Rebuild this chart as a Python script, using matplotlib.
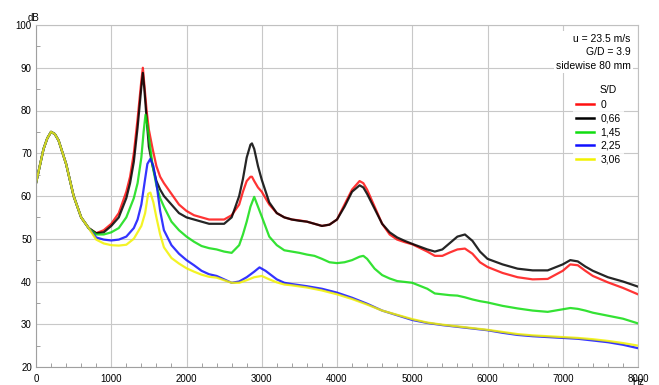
import matplotlib
matplotlib.use("Agg")
import matplotlib.pyplot as plt
from matplotlib.ticker import MultipleLocator

plt.rcParams['font.family'] = ['Liberation Sans', 'DejaVu Sans']

# shared low-frequency hump (all five curves lie on top of each other here)
f_low = [0, 50, 100, 150, 200, 250, 300, 400, 500, 600, 700]
db_low = [63, 67, 71, 73.5, 75, 74.5, 73, 67.5, 60, 55, 52.5]

f_red = [800, 900, 1000, 1100, 1200, 1250, 1300, 1350, 1400, 1420, 1440, 1470, 1500, 1550,
         1600, 1650, 1700, 1800, 1900, 2000, 2100, 2200, 2300, 2400, 2500, 2600, 2700, 2750,
         2800, 2850, 2870, 2900, 2950, 3000, 3100, 3200, 3300, 3400, 3500, 3600, 3700, 3800,
         3900, 4000, 4100, 4200, 4300, 4350, 4400, 4500, 4600, 4700, 4800, 4900, 5000, 5200,
         5300, 5400, 5500, 5600, 5700, 5800, 5900, 6000, 6200, 6400, 6600, 6800, 7000, 7100,
         7200, 7300, 7400, 7600, 7800, 8000]
db_red = [51.3, 52, 53.5, 56, 61, 64.5, 70, 78, 87, 90, 86, 80, 75.5, 71,
          67, 64.5, 63, 60.5, 58, 56.5, 55.5, 55, 54.5, 54.5, 54.5, 55.5, 58, 61,
          63.5, 64.5, 64.5, 63.5, 62, 61, 58, 56, 55, 54.5, 54.3, 54, 53.5, 53,
          53.3, 54.5, 58, 61.5, 63.5, 63, 61.5, 57.5, 53.5, 51, 49.8, 49.2, 48.7, 47,
          46, 46, 46.8, 47.5, 47.7, 46.5, 44.5, 43.4, 42, 41, 40.5, 40.6, 42.5, 44,
          43.8, 42.5, 41.3, 39.8, 38.5, 37]

f_black = f_red
db_black = [51.3, 51.5, 53, 55, 59.5, 63, 68, 76, 85.5, 88.8, 85, 78, 71.5, 67,
            63.5, 61.5, 60, 58, 56, 55, 54.5, 54, 53.5, 53.5, 53.5, 55, 60, 64,
            69, 72, 72.3, 71, 67, 63.8, 58.5, 56, 55, 54.5, 54.2, 54, 53.5, 53,
            53.3, 54.5, 57.5, 61, 62.5, 62, 60.5, 57, 53.5, 51.5, 50.3, 49.5, 48.8, 47.5,
            47, 47.5, 49, 50.5, 51, 49.5, 47, 45.3, 44, 43, 42.6, 42.6, 44, 45,
            44.7, 43.5, 42.5, 41, 40, 38.8]

f_green = [800, 900, 1000, 1100, 1200, 1300, 1350, 1400, 1430, 1455, 1480, 1510, 1550, 1600,
           1650, 1700, 1800, 1900, 2000, 2100, 2200, 2300, 2400, 2500, 2600, 2700, 2750, 2800,
           2850, 2900, 2950, 3000, 3100, 3200, 3300, 3400, 3500, 3600, 3700, 3800, 3900, 4000,
           4100, 4200, 4300, 4350, 4400, 4500, 4600, 4700, 4800, 4900, 5000, 5200, 5300, 5400,
           5500, 5600, 5700, 5800, 5900, 6000, 6200, 6400, 6600, 6800, 7000, 7100, 7200, 7300,
           7400, 7600, 7800, 8000]
db_green = [51, 51, 51.5, 52.5, 55, 59.5, 63, 69, 75, 79, 76.5, 72.5, 67, 62.5,
            59.5, 57.5, 54, 52, 50.5, 49.3, 48.3, 47.8, 47.5, 47, 46.7, 48.5, 51, 54,
            57.5, 59.8, 57.5, 55.2, 50.5, 48.5, 47.3, 47, 46.7, 46.3, 46, 45.3, 44.5, 44.3,
            44.5, 45, 45.8, 46, 45.3, 43, 41.5, 40.7, 40.1, 39.9, 39.7, 38.3, 37.2, 37,
            36.8, 36.7, 36.3, 35.8, 35.4, 35.1, 34.3, 33.7, 33.2, 32.9, 33.5, 33.8, 33.6, 33.2,
            32.7, 32, 31.3, 30.2]

f_blue = [800, 900, 1000, 1100, 1200, 1300, 1350, 1400, 1450, 1480, 1520, 1560, 1600, 1650,
          1700, 1800, 1900, 2000, 2100, 2200, 2300, 2400, 2500, 2600, 2700, 2800, 2900, 2970,
          3050, 3200, 3300, 3400, 3600, 3800, 4000, 4200, 4400, 4600, 4800, 5000, 5200, 5400,
          5600, 5800, 6000, 6200, 6400, 6600, 6800, 7000, 7200, 7400, 7600, 7800, 8000]
db_blue = [50.3, 49.8, 49.6, 49.8, 50.5, 52.5, 54.5, 58, 64, 67.5, 68.7, 67, 63, 56.5,
           52, 48.5, 46.5, 45, 43.8, 42.5, 41.7, 41.3, 40.5, 39.7, 40, 41, 42.3, 43.3,
           42.5, 40.5, 39.7, 39.4, 38.9, 38.3, 37.4, 36.2, 34.8, 33.2, 32.1, 31, 30.3, 29.8,
           29.4, 29, 28.6, 28, 27.5, 27.2, 27, 26.8, 26.6, 26.2, 25.8, 25.2, 24.4]

f_yellow = [800, 900, 1000, 1100, 1200, 1300, 1350, 1400, 1450, 1490, 1520, 1560, 1600, 1650,
            1700, 1800, 1900, 2000, 2100, 2200, 2300, 2400, 2500, 2600, 2700, 2800, 2900, 3000,
            3100, 3200, 3300, 3400, 3600, 3800, 4000, 4200, 4400, 4600, 4800, 5000, 5200, 5400,
            5600, 5800, 6000, 6200, 6400, 6600, 6800, 7000, 7200, 7400, 7600, 7800, 8000]
db_yellow = [49.8, 48.9, 48.5, 48.4, 48.6, 50, 51.5, 53, 56, 60.5, 60.8, 58.5, 55, 51,
             48, 45.5, 44.2, 43.1, 42.3, 41.6, 41.1, 40.9, 40.3, 39.7, 39.7, 40.3, 41, 41.3,
             40.5, 39.8, 39.3, 39.1, 38.6, 37.9, 37, 35.9, 34.6, 33.2, 32.2, 31.2, 30.4, 29.9,
             29.5, 29.1, 28.7, 28.2, 27.7, 27.4, 27.2, 27, 26.8, 26.5, 26.1, 25.6, 25]

labels = ['0', '0,66', '1,45', '2,25', '3,06']
colors = ['#ff1010', '#000000', '#10dd10', '#1010ff', '#f2f200']
series = [(f_red, db_red), (f_black, db_black), (f_green, db_green),
          (f_blue, db_blue), (f_yellow, db_yellow)]

fig = plt.figure(figsize=(6.59, 3.85), dpi=100)
ax = fig.add_axes([36/659, 1-367/385, 602/659, 342/385])

for (f, db), c, lab in zip(series, colors, labels):
    ax.plot(f_low + f, db_low + db, color=c, lw=1.6, alpha=0.85, label=lab)

ax.set_xlim(0, 8000)
ax.set_ylim(20, 100)
ax.xaxis.set_major_locator(MultipleLocator(1000))
ax.xaxis.set_minor_locator(MultipleLocator(200))
ax.yaxis.set_major_locator(MultipleLocator(10))
ax.yaxis.set_minor_locator(MultipleLocator(5))
ax.grid(True, which='major', color='#c8c8c8', lw=0.8)
ax.set_axisbelow(True)
for s in ax.spines.values():
    s.set_color('#c0c0c0')
    s.set_linewidth(0.8)
ax.spines['left'].set_color('#a0a0a0')
ax.spines['bottom'].set_color('#a0a0a0')
ax.tick_params(which='both', direction='in', color='#909090', labelsize=7, pad=3)
ax.tick_params(which='major', length=0)
ax.tick_params(which='minor', length=3)
ax.tick_params(axis='x', pad=5)

fig.text(33/659, 1-18/385, 'dB', fontsize=7, ha='center', va='center')
fig.text(638/659, 1-377/385, 'Hz', fontsize=7, ha='center', va='top')

ax.text(0.988, 0.975, 'u = 23.5 m/s\nG/D = 3.9\nsidewise 80 mm', transform=ax.transAxes,
        ha='right', va='top', fontsize=7.5, linespacing=1.45,
        bbox=dict(facecolor='white', edgecolor='none', pad=1.5))

leg = ax.legend(loc='upper right', bbox_to_anchor=(0.985, 0.805), fontsize=7.5, frameon=True,
                handlelength=1.7, handletextpad=0.6, labelspacing=0.35, borderpad=0.3,
                fancybox=False)
leg.get_frame().set_edgecolor('none')
for h in leg.get_lines():
    h.set_linewidth(1.8)
    h.set_alpha(1)
fig.text(600/659, 1-90/385, 'S/D', fontsize=7.5, ha='left', va='center')

fig.savefig('out.png', dpi=100)
